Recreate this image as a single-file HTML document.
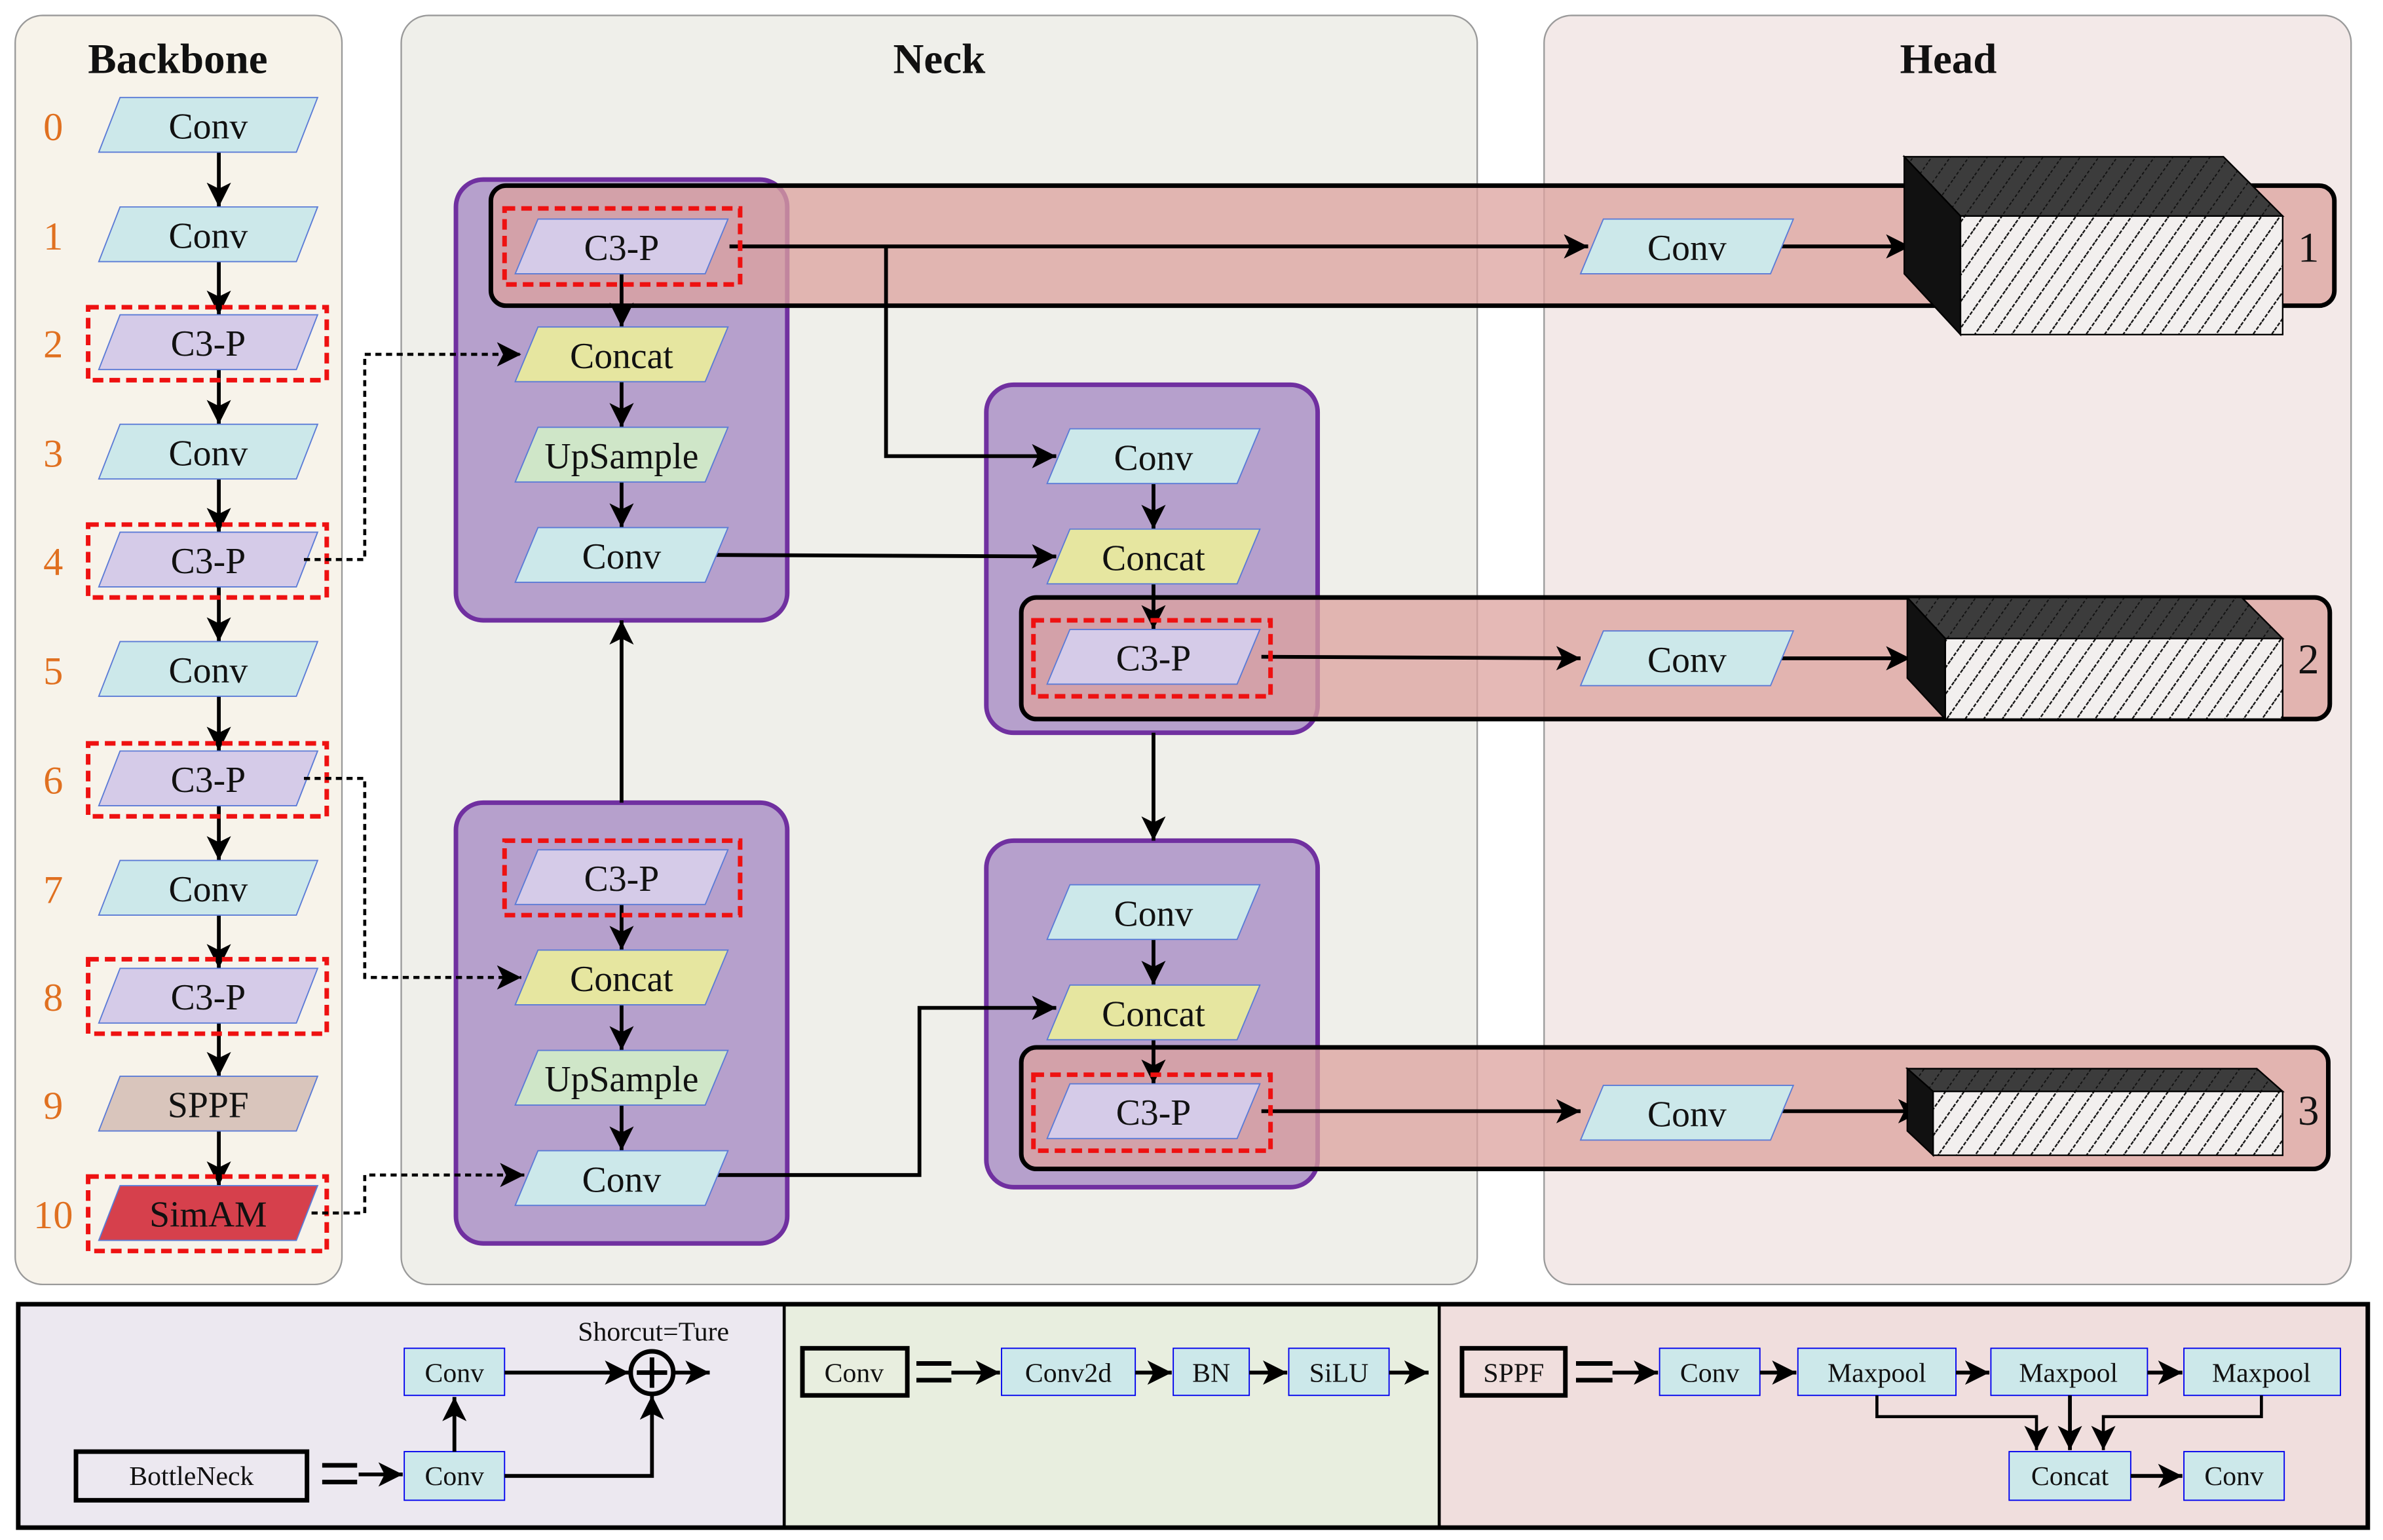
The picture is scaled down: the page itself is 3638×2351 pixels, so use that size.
<!DOCTYPE html>
<html><head><meta charset="utf-8"><style>
html,body{margin:0;padding:0;background:#fff;}
svg{display:block;}
text{font-family:"Liberation Serif",serif;fill:#111;}
</style></head><body>
<svg width="3638" height="2351" viewBox="0 0 1568 1013" xmlns="http://www.w3.org/2000/svg">
<defs>
<marker id="ar" markerUnits="userSpaceOnUse" markerWidth="18" markerHeight="16" refX="16" refY="8" orient="auto">
<path d="M0,0 L16,8 L0,16 L4,8 Z" fill="#000"/></marker>
<pattern id="hatch" patternUnits="userSpaceOnUse" width="10" height="10" patternTransform="rotate(35)">
<rect width="10" height="10" fill="#f2efee"/><line x1="0" y1="0" x2="0" y2="10" stroke="#111" stroke-width="2" stroke-dasharray="2.5,1"/></pattern>
<pattern id="hatchD" patternUnits="userSpaceOnUse" width="10" height="10" patternTransform="rotate(35)">
<rect width="10" height="10" fill="#3c3c3c"/><line x1="0" y1="0" x2="0" y2="10" stroke="#111" stroke-width="1.6" stroke-dasharray="2,1.5"/></pattern>
<polygon id="pB" points="-58,-18 72,-18 58,18 -72,18" stroke="#5b7bd6" stroke-width="0.8"/>
<polygon id="pN" points="-55,-18 70,-18 55,18 -70,18" stroke="#5b7bd6" stroke-width="0.8"/>
</defs>

<!-- panels -->
<rect x="10" y="10" width="215" height="835" rx="18" fill="#f7f3ea" stroke="#9a9a9a" stroke-width="1"/>
<rect x="264" y="10" width="708" height="835" rx="18" fill="#efefea" stroke="#9a9a9a" stroke-width="1"/>
<rect x="1016" y="10" width="531" height="835" rx="18" fill="#f3e9e8" stroke="#9a9a9a" stroke-width="1"/>
<text x="117" y="48" font-size="28" font-weight="bold" text-anchor="middle">Backbone</text>
<text x="618" y="48" font-size="28" font-weight="bold" text-anchor="middle">Neck</text>
<text x="1282" y="48" font-size="28" font-weight="bold" text-anchor="middle">Head</text>

<!-- backbone -->
<g font-size="26">
<text x="35" y="92" text-anchor="middle" style="fill:#e07020">0</text>
<text x="35" y="164" text-anchor="middle" style="fill:#e07020">1</text>
<text x="35" y="235" text-anchor="middle" style="fill:#e07020">2</text>
<text x="35" y="307" text-anchor="middle" style="fill:#e07020">3</text>
<text x="35" y="378" text-anchor="middle" style="fill:#e07020">4</text>
<text x="35" y="450" text-anchor="middle" style="fill:#e07020">5</text>
<text x="35" y="522" text-anchor="middle" style="fill:#e07020">6</text>
<text x="35" y="594" text-anchor="middle" style="fill:#e07020">7</text>
<text x="35" y="665" text-anchor="middle" style="fill:#e07020">8</text>
<text x="35" y="736" text-anchor="middle" style="fill:#e07020">9</text>
<text x="35" y="808" text-anchor="middle" style="fill:#e07020">10</text>
</g>
<g stroke="#000" stroke-width="2.5" marker-end="url(#ar)">
<line x1="144" y1="100" x2="144" y2="136"/><line x1="144" y1="172" x2="144" y2="207"/>
<line x1="144" y1="243" x2="144" y2="279"/><line x1="144" y1="315" x2="144" y2="350"/>
<line x1="144" y1="386" x2="144" y2="422"/><line x1="144" y1="458" x2="144" y2="494"/>
<line x1="144" y1="530" x2="144" y2="566"/><line x1="144" y1="602" x2="144" y2="637"/>
<line x1="144" y1="673" x2="144" y2="708"/><line x1="144" y1="744" x2="144" y2="780"/>
</g>
<use href="#pB" x="137" y="82" fill="#cce8ea"/><text x="137" y="91" font-size="24" text-anchor="middle">Conv</text>
<use href="#pB" x="137" y="154" fill="#cce8ea"/><text x="137" y="163" font-size="24" text-anchor="middle">Conv</text>
<use href="#pB" x="137" y="225" fill="#d5cbe8"/><text x="137" y="234" font-size="24" text-anchor="middle">C3-P</text>
<use href="#pB" x="137" y="297" fill="#cce8ea"/><text x="137" y="306" font-size="24" text-anchor="middle">Conv</text>
<use href="#pB" x="137" y="368" fill="#d5cbe8"/><text x="137" y="377" font-size="24" text-anchor="middle">C3-P</text>
<use href="#pB" x="137" y="440" fill="#cce8ea"/><text x="137" y="449" font-size="24" text-anchor="middle">Conv</text>
<use href="#pB" x="137" y="512" fill="#d5cbe8"/><text x="137" y="521" font-size="24" text-anchor="middle">C3-P</text>
<use href="#pB" x="137" y="584" fill="#cce8ea"/><text x="137" y="593" font-size="24" text-anchor="middle">Conv</text>
<use href="#pB" x="137" y="655" fill="#d5cbe8"/><text x="137" y="664" font-size="24" text-anchor="middle">C3-P</text>
<use href="#pB" x="137" y="726" fill="#d9c5bc"/><text x="137" y="735" font-size="24" text-anchor="middle">SPPF</text>
<use href="#pB" x="137" y="798" fill="#d6404c"/><text x="137" y="807" font-size="24" text-anchor="middle">SimAM</text>
<g fill="none" stroke="#ee1111" stroke-width="3" stroke-dasharray="7,4">
<rect x="58" y="202" width="157" height="48"/><rect x="58" y="345" width="157" height="48"/>
<rect x="58" y="489" width="157" height="48"/><rect x="58" y="631" width="157" height="49"/>
<rect x="58" y="774" width="157" height="49"/>
</g>

<!-- neck groups -->
<g fill="#b6a0cc" stroke="#7030a0" stroke-width="3">
<rect x="300" y="118" width="218" height="290" rx="18"/>
<rect x="300" y="528" width="218" height="290" rx="18"/>
<rect x="649" y="253" width="218" height="229" rx="18"/>
<rect x="649" y="553" width="218" height="228" rx="18"/>
</g>
<rect x="323" y="122" width="1213" height="79" rx="10" fill="#dca29e" fill-opacity="0.75" stroke="#000" stroke-width="3"/>
<rect x="672" y="393" width="861" height="80" rx="10" fill="#dca29e" fill-opacity="0.75" stroke="#000" stroke-width="3"/>
<rect x="672" y="689" width="860" height="80" rx="10" fill="#dca29e" fill-opacity="0.75" stroke="#000" stroke-width="3"/>

<!-- dotted connectors -->
<g fill="none" stroke="#000" stroke-width="2" stroke-dasharray="4,3" marker-end="url(#ar)">
<polyline points="200,368 240,368 240,233 343,233"/>
<polyline points="200,512 240,512 240,643 343,643"/>
<polyline points="205,798 240,798 240,773 345,773"/>
</g>

<!-- arrows neck -->
<g fill="none" stroke="#000" stroke-width="2.5" marker-end="url(#ar)">
<line x1="409" y1="180" x2="409" y2="215"/><line x1="409" y1="251" x2="409" y2="281"/><line x1="409" y1="317" x2="409" y2="347"/>
<line x1="409" y1="595" x2="409" y2="625"/><line x1="409" y1="661" x2="409" y2="691"/><line x1="409" y1="727" x2="409" y2="757"/>
<line x1="759" y1="318" x2="759" y2="348"/><line x1="759" y1="384" x2="759" y2="414"/>
<line x1="759" y1="618" x2="759" y2="648"/><line x1="759" y1="684" x2="759" y2="713"/>
<line x1="409" y1="528" x2="409" y2="408"/>
<polyline points="470,365 695,366"/>
<polyline points="480,162 1045,162"/>
<polyline points="583,162 583,300 695,300"/>
<polyline points="830,432 1040,433"/>
<polyline points="1172,433 1257,433"/>
<polyline points="759,482 759,553"/>
<polyline points="470,773 605,773 605,663 695,663"/>
<polyline points="830,731 1040,731"/>
<polyline points="1172,731 1265,731"/>
<polyline points="1172,162 1257,162"/>
</g>

<!-- neck nodes -->
<g font-size="24" text-anchor="middle">
<use href="#pN" x="409" y="162" fill="#d5cbe8"/><text x="409" y="171">C3-P</text>
<use href="#pN" x="409" y="233" fill="#e6e6a0"/><text x="409" y="242">Concat</text>
<use href="#pN" x="409" y="299" fill="#cfe6c8"/><text x="409" y="308">UpSample</text>
<use href="#pN" x="409" y="365" fill="#cce8ea"/><text x="409" y="374">Conv</text>
<use href="#pN" x="409" y="577" fill="#d5cbe8"/><text x="409" y="586">C3-P</text>
<use href="#pN" x="409" y="643" fill="#e6e6a0"/><text x="409" y="652">Concat</text>
<use href="#pN" x="409" y="709" fill="#cfe6c8"/><text x="409" y="718">UpSample</text>
<use href="#pN" x="409" y="775" fill="#cce8ea"/><text x="409" y="784">Conv</text>
<use href="#pN" x="759" y="300" fill="#cce8ea"/><text x="759" y="309">Conv</text>
<use href="#pN" x="759" y="366" fill="#e6e6a0"/><text x="759" y="375">Concat</text>
<use href="#pN" x="759" y="432" fill="#d5cbe8"/><text x="759" y="441">C3-P</text>
<use href="#pN" x="759" y="600" fill="#cce8ea"/><text x="759" y="609">Conv</text>
<use href="#pN" x="759" y="666" fill="#e6e6a0"/><text x="759" y="675">Concat</text>
<use href="#pN" x="759" y="731" fill="#d5cbe8"/><text x="759" y="740">C3-P</text>
<use href="#pN" x="1110" y="162" fill="#cce8ea"/><text x="1110" y="171">Conv</text>
<use href="#pN" x="1110" y="433" fill="#cce8ea"/><text x="1110" y="442">Conv</text>
<use href="#pN" x="1110" y="732" fill="#cce8ea"/><text x="1110" y="741">Conv</text>
</g>
<g fill="none" stroke="#ee1111" stroke-width="3" stroke-dasharray="7,4">
<rect x="332" y="137" width="155" height="50"/><rect x="332" y="553" width="155" height="49"/>
<rect x="680" y="408" width="156" height="50"/><rect x="680" y="707" width="156" height="50"/>
</g>

<!-- 3D boxes -->
<g stroke="#000" stroke-width="1">
<polygon points="1253,103 1463,103 1502,142 1290,142" fill="url(#hatchD)"/>
<polygon points="1253,103 1290,142 1290,220 1253,180" fill="#111"/>
<rect x="1290" y="142" width="212" height="78" fill="url(#hatch)"/>
<polygon points="1255,393 1475,393 1502,420 1280,420" fill="url(#hatchD)"/>
<polygon points="1255,393 1280,420 1280,473 1255,446" fill="#111"/>
<rect x="1280" y="420" width="222" height="53" fill="url(#hatch)"/>
<polygon points="1255,703 1485,703 1502,718 1272,718" fill="url(#hatchD)"/>
<polygon points="1255,703 1272,718 1272,760 1255,744" fill="#111"/>
<rect x="1272" y="718" width="230" height="42" fill="url(#hatch)"/>
</g>
<g font-size="28" text-anchor="middle">
<text x="1519" y="172">1</text><text x="1519" y="443">2</text><text x="1519" y="740">3</text>
</g>

<!-- legend -->
<rect x="12" y="858" width="504" height="147" fill="#ece8f0"/>
<rect x="516" y="858" width="431" height="147" fill="#e8eedf"/>
<rect x="947" y="858" width="611" height="147" fill="#f0dedd"/>
<rect x="12" y="858" width="1546" height="147" fill="none" stroke="#000" stroke-width="3"/>
<line x1="516" y1="858" x2="516" y2="1005" stroke="#000" stroke-width="2"/>
<line x1="947" y1="858" x2="947" y2="1005" stroke="#000" stroke-width="2"/>
<g stroke="#0000ee" stroke-width="0.8" fill="#cce8ea">
<rect x="266" y="887" width="66" height="31"/><rect x="266" y="955" width="66" height="32"/>
<rect x="659" y="887" width="88" height="31"/><rect x="772" y="887" width="50" height="31"/><rect x="848" y="887" width="66" height="31"/>
<rect x="1092" y="887" width="66" height="31"/><rect x="1183" y="887" width="104" height="31"/><rect x="1310" y="887" width="103" height="31"/><rect x="1437" y="887" width="103" height="31"/>
<rect x="1322" y="955" width="80" height="32"/><rect x="1437" y="955" width="66" height="32"/>
</g>
<g fill="none" stroke="#000" stroke-width="3">
<rect x="50" y="955" width="152" height="32"/><rect x="528" y="887" width="69" height="31"/><rect x="962" y="887" width="68" height="31"/>
<circle cx="429" cy="903" r="14"/>
</g>
<g stroke="#000" stroke-width="3"><line x1="419" y1="903" x2="439" y2="903"/><line x1="429" y1="893" x2="429" y2="913"/>
<line x1="212" y1="964" x2="235" y2="964"/><line x1="212" y1="975" x2="235" y2="975"/>
<line x1="603" y1="897" x2="626" y2="897"/><line x1="603" y1="908" x2="626" y2="908"/>
<line x1="1037" y1="897" x2="1061" y2="897"/><line x1="1037" y1="908" x2="1061" y2="908"/>
</g>
<g fill="none" stroke="#000" stroke-width="2.5" marker-end="url(#ar)">
<line x1="236" y1="970" x2="265" y2="970"/>
<line x1="299" y1="955" x2="299" y2="919"/>
<line x1="332" y1="903" x2="414" y2="903"/>
<polyline points="332,971 429,971 429,918"/>
<line x1="443" y1="903" x2="467" y2="903"/>
<line x1="626" y1="903" x2="658" y2="903"/><line x1="747" y1="903" x2="771" y2="903"/><line x1="822" y1="903" x2="847" y2="903"/><line x1="914" y1="903" x2="940" y2="903"/>
<line x1="1061" y1="903" x2="1091" y2="903"/><line x1="1158" y1="903" x2="1182" y2="903"/><line x1="1287" y1="903" x2="1309" y2="903"/><line x1="1413" y1="903" x2="1436" y2="903"/>
<line x1="1402" y1="971" x2="1436" y2="971"/>
<line x1="1362" y1="918" x2="1362" y2="954"/>
</g>
<g fill="none" stroke="#000" stroke-width="2" marker-end="url(#ar)">
<polyline points="1235,918 1235,932 1340,932 1340,954"/>
<polyline points="1488,918 1488,932 1384,932 1384,954"/>
</g>
<g font-size="18" text-anchor="middle">
<text x="430" y="882">Shorcut=Ture</text>
<text x="299" y="909">Conv</text><text x="299" y="977">Conv</text><text x="126" y="977">BottleNeck</text>
<text x="562" y="909">Conv</text><text x="703" y="909">Conv2d</text><text x="797" y="909">BN</text><text x="881" y="909">SiLU</text>
<text x="996" y="909">SPPF</text><text x="1125" y="909">Conv</text><text x="1235" y="909">Maxpool</text><text x="1361" y="909">Maxpool</text><text x="1488" y="909">Maxpool</text>
<text x="1362" y="977">Concat</text><text x="1470" y="977">Conv</text>
</g>
</svg>
</body></html>
